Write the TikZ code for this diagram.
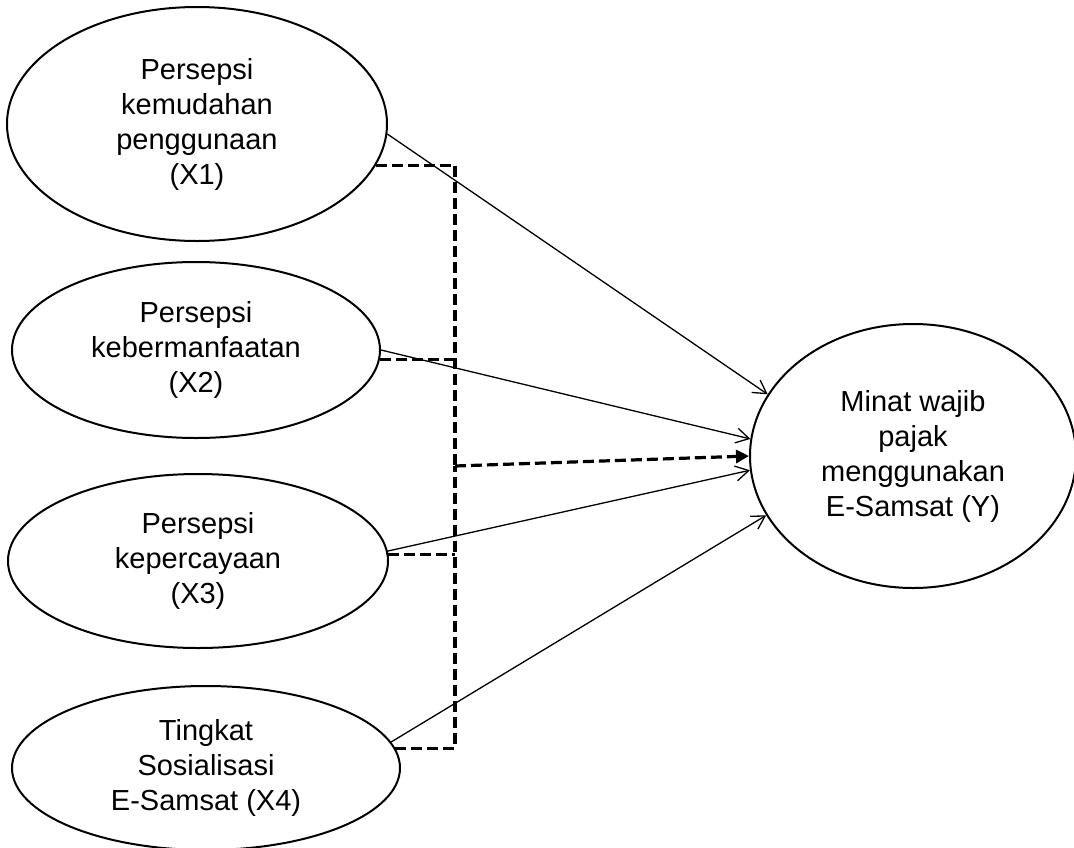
\documentclass[tikz,border=0pt]{standalone}
\usepackage{fontspec}
\setmainfont{Liberation Sans}
\usetikzlibrary{shapes.geometric, arrows.meta}

\begin{document}
\begin{tikzpicture}[x=1pt, y=-1pt,
  var/.style={ellipse, draw, line width=2pt, inner sep=0pt, align=center,
    font=\fontsize{29}{35}\selectfont},
  panah/.style={line width=1.3pt, -{Straight Barb[length=13pt, width=15pt, line width=1.3pt]}},
  putus/.style={line width=3.2pt, dash pattern=on 11pt off 5pt}]
  \useasboundingbox (0,0) rectangle (1074,847);
  \node[var, minimum width=380, minimum height=234] (X1) at (197,124)
    {Persepsi\\kemudahan\\penggunaan\\(X1)};
  \node[var, minimum width=368, minimum height=176] (X2) at (196,350)
    {Persepsi\\kebermanfaatan\\(X2)};
  \node[var, minimum width=380, minimum height=174] (X3) at (198,561)
    {Persepsi\\kepercayaan\\(X3)};
  \node[var, minimum width=388, minimum height=164] (X4) at (206,768)
    {Tingkat\\Sosialisasi\\E-Samsat (X4)};
  \node[var, minimum width=326, minimum height=264] (Y) at (913,456)
    {Minat wajib\\pajak\\menggunakan\\E-Samsat (Y)};
  \draw[panah] (X1.-3) -- (Y.157);
  \draw[panah] (X2.east) -- (Y.174);
  \draw[panah] (X3.3) -- (Y.185);
  \draw[panah] (X4.8) -- (Y.202);
  % garis putus-putus
  \coordinate (sambung) at (455,466);
  \draw[putus] (X1.-13) -| (sambung);
  \draw[putus] (X4.6) -| (sambung);
  \draw[putus] (X2.-3) -- (X2.-3 -| sambung);
  \draw[putus] (X3.2) -- (X3.2 -| sambung);
  \draw[putus, -{Triangle[length=13pt, width=13pt]}] (sambung) -- (Y.west);
\end{tikzpicture}
\end{document}
